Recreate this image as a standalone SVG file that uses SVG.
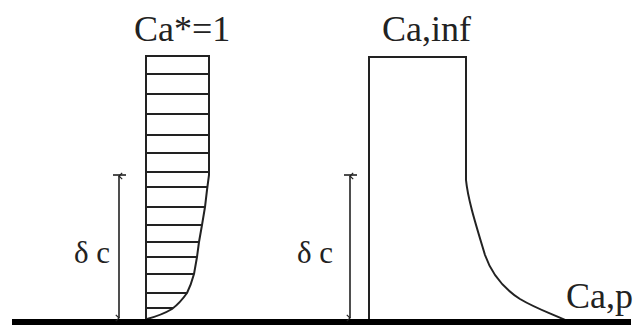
<svg xmlns="http://www.w3.org/2000/svg" width="637" height="325" viewBox="0 0 637 325">
<style>
.ln{stroke:#222;stroke-width:2;fill:none}
.hl{stroke:#222;stroke-width:2}
.tx{font-family:"Liberation Serif","Times New Roman",serif;font-size:36px;fill:#222}
.sm{font-size:31px}
.dim{stroke:#222;stroke-width:1.6;fill:none}
</style>
<defs>
<marker id="ah" viewBox="0 0 10 10" refX="5" refY="1" markerWidth="8" markerHeight="8" markerUnits="userSpaceOnUse" orient="auto-start-reverse">
<path d="M1,5 L5,1 L9,5" fill="none" stroke="#222" stroke-width="1.5"/>
</marker>
</defs>
<rect width="637" height="325" fill="#fff"/>
<g id="profile-left">
<path class="ln" d="M146,320 V56 H209 V175 L207,190 L205,207 L202,225 L199,242 L197,257 L194,274 Q191,285 187,293 Q180,303 172,309 Q162,315 147,319"/>
<g class="hl">
<line x1="146" y1="74" x2="209" y2="74"/>
<line x1="146" y1="94" x2="209" y2="94"/>
<line x1="146" y1="114" x2="209" y2="114"/>
<line x1="146" y1="135" x2="209" y2="135"/>
<line x1="146" y1="153" x2="209" y2="153"/>
<line x1="146" y1="172" x2="209" y2="172"/>
<line x1="146" y1="187" x2="207" y2="187"/>
<line x1="146" y1="207" x2="205" y2="207"/>
<line x1="146" y1="225" x2="202" y2="225"/>
<line x1="146" y1="242" x2="199" y2="242"/>
<line x1="146" y1="257" x2="197" y2="257"/>
<line x1="146" y1="274" x2="194" y2="274"/>
<line x1="146" y1="293" x2="187" y2="293"/>
<line x1="146" y1="308" x2="173" y2="308"/>
</g>
<text class="tx" x="134" y="41">Ca*=1</text>
</g>
<g id="profile-right">
<path class="ln" d="M369,320 V57 H466 V180 C468,200 476,225 485,255 C492,275 503,288 520,299 C535,308 552,314 565,320"/>
<text class="tx" x="382" y="41">Ca,inf</text>
<text class="tx" x="566" y="308">Ca,p</text>
</g>
<g id="wall">
<rect x="12" y="319" width="619" height="6" fill="#000"/>
</g>
<g id="connectors">
<line class="dim" x1="119" y1="176" x2="119" y2="318" marker-start="url(#ah)" marker-end="url(#ah)"/>
<line class="dim" x1="113" y1="175" x2="126" y2="175"/>
<line class="dim" x1="350" y1="176" x2="350" y2="318" marker-start="url(#ah)" marker-end="url(#ah)"/>
<line class="dim" x1="344" y1="175" x2="357" y2="175"/>
</g>
<g id="labels">
<text class="tx sm" x="74" y="263">δ c</text>
<text class="tx sm" x="297" y="263">δ c</text>
</g>
</svg>
